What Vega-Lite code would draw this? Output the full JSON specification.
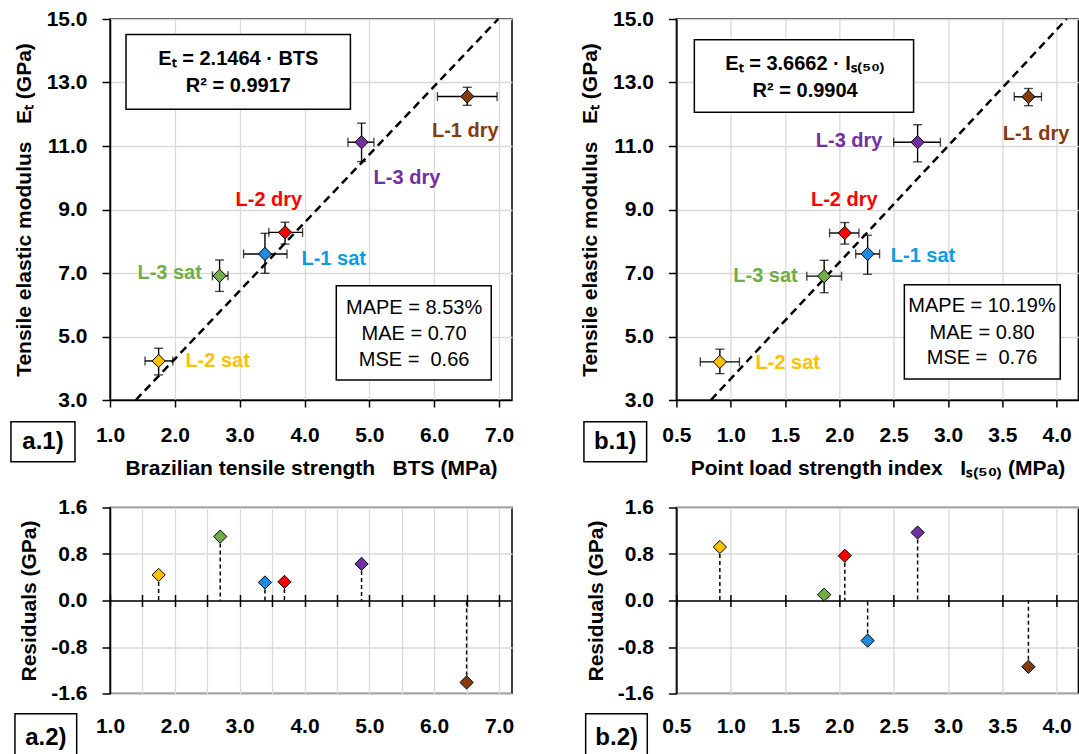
{
  "$schema": "https://vega.github.io/schema/vega-lite/v6.json",
  "background": "white",
  "padding": {"left": 9, "top": 7, "right": 0, "bottom": 0},
  "config": {
    "font": "Liberation Sans",
    "view": {"stroke": "black", "strokeWidth": 1.5},
    "axis": {"labelFont": "Liberation Sans", "labelFontSize": 21, "labelFontWeight": "bold", "labelColor": "black", "titleFont": "Liberation Sans", "titleFontSize": 21, "titleFontWeight": "bold", "titleColor": "black", "domainColor": "black", "domainWidth": 1.5, "tickColor": "black", "tickWidth": 1.5, "gridColor": "#d9d9d9", "gridWidth": 1.3, "labelFlush": false, "labelOverlap": false, "labelBound": false},
    "text": {"font": "Liberation Sans"}
  },
  "datasets": {
    "bts": [
      {"s": "L-2 sat", "x": 1.75, "xlo": 1.54, "xhi": 1.97, "y": 4.23, "ylo": 3.79, "yhi": 4.63},
      {"s": "L-3 sat", "x": 2.69, "xlo": 2.58, "xhi": 2.82, "y": 6.91, "ylo": 6.42, "yhi": 7.41},
      {"s": "L-1 sat", "x": 3.39, "xlo": 3.06, "xhi": 3.73, "y": 7.6, "ylo": 6.99, "yhi": 8.25},
      {"s": "L-2 dry", "x": 3.7, "xlo": 3.45, "xhi": 3.97, "y": 8.28, "ylo": 7.91, "yhi": 8.6},
      {"s": "L-3 dry", "x": 4.88, "xlo": 4.67, "xhi": 5.07, "y": 11.12, "ylo": 10.51, "yhi": 11.72},
      {"s": "L-1 dry", "x": 6.51, "xlo": 6.05, "xhi": 6.97, "y": 12.56, "ylo": 12.28, "yhi": 12.85}
    ],
    "is50": [
      {"s": "L-2 sat", "x": 0.9, "xlo": 0.72, "xhi": 1.08, "y": 4.2, "ylo": 3.83, "yhi": 4.6},
      {"s": "L-3 sat", "x": 1.86, "xlo": 1.7, "xhi": 2.02, "y": 6.9, "ylo": 6.38, "yhi": 7.4},
      {"s": "L-2 dry", "x": 2.05, "xlo": 1.91, "xhi": 2.18, "y": 8.26, "ylo": 7.91, "yhi": 8.59},
      {"s": "L-1 sat", "x": 2.26, "xlo": 2.15, "xhi": 2.37, "y": 7.6, "ylo": 6.96, "yhi": 8.19},
      {"s": "L-3 dry", "x": 2.72, "xlo": 2.5, "xhi": 2.93, "y": 11.12, "ylo": 10.5, "yhi": 11.67},
      {"s": "L-1 dry", "x": 3.74, "xlo": 3.61, "xhi": 3.86, "y": 12.55, "ylo": 12.27, "yhi": 12.81}
    ],
    "resBts": [
      {"s": "L-2 sat", "x": 1.75, "r": 0.44},
      {"s": "L-3 sat", "x": 2.7, "r": 1.1},
      {"s": "L-1 sat", "x": 3.39, "r": 0.31},
      {"s": "L-2 dry", "x": 3.69, "r": 0.32},
      {"s": "L-3 dry", "x": 4.88, "r": 0.63},
      {"s": "L-1 dry", "x": 6.5, "r": -1.41}
    ],
    "resIs": [
      {"s": "L-2 sat", "x": 0.9, "r": 0.92},
      {"s": "L-3 sat", "x": 1.86, "r": 0.1},
      {"s": "L-2 dry", "x": 2.05, "r": 0.77},
      {"s": "L-1 sat", "x": 2.26, "r": -0.69},
      {"s": "L-3 dry", "x": 2.72, "r": 1.17},
      {"s": "L-1 dry", "x": 3.74, "r": -1.14}
    ],
    "fitBts": [{"x": 1.398, "y": 3}, {"x": 6.988, "y": 15}],
    "fitIs": [{"x": 0.818, "y": 3}, {"x": 4.091, "y": 15}]
  },
  "columns": 2,
  "bounds": "flush",
  "spacing": {"row": 107.5, "column": 164.4},
  "concat": [
    {
      "width": 402, "height": 381,
      "layer": [
        {"data": {"name": "fitBts"}, "mark": {"type": "line", "color": "black", "strokeWidth": 2.5, "strokeDash": [8, 5]},
         "encoding": {
           "x": {"field": "x", "type": "quantitative", "title": "Brazilian tensile strength\u00a0\u00a0\u00a0BTS (MPa)", "scale": {"domain": [1, 7.2], "nice": false, "zero": false},
                 "axis": {"values": [1, 1.5, 2, 2.5, 3, 3.5, 4, 4.5, 5, 5.5, 6, 6.5, 7], "labelExpr": "datum.value % 1 == 0 ? format(datum.value, '.1f') : ''", "tickSize": 7, "labelPadding": 17, "grid": true, "title": "Brazilian tensile strength\u00a0\u00a0\u00a0BTS (MPa)", "titlePadding": 12}},
           "y": {"field": "y", "type": "quantitative", "title": "Tensile elastic modulus\u00a0\u00a0\u00a0E\u209c (GPa)", "scale": {"domain": [3, 15], "nice": false, "zero": false},
                 "axis": {"values": [3, 4, 5, 6, 7, 8, 9, 10, 11, 12, 13, 14, 15], "labelExpr": "datum.value % 2 == 1 ? format(datum.value, '.1f') : ''", "tickSize": 8, "labelPadding": 15, "grid": true, "title": "Tensile elastic modulus\u00a0\u00a0\u00a0E\u209c (GPa)", "titlePadding": 12}}
         }},
        {"data": {"name": "bts"}, "mark": {"type": "errorbar", "color": "black", "ticks": true, "size": 9, "thickness": 1.4},
         "encoding": {"x": {"field": "xlo", "type": "quantitative", "title": "Brazilian tensile strength\u00a0\u00a0\u00a0BTS (MPa)"}, "x2": {"field": "xhi"}, "y": {"field": "y", "type": "quantitative", "title": "Tensile elastic modulus\u00a0\u00a0\u00a0E\u209c (GPa)"}}},
        {"data": {"name": "bts"}, "mark": {"type": "errorbar", "color": "black", "ticks": true, "size": 9, "thickness": 1.4},
         "encoding": {"y": {"field": "ylo", "type": "quantitative", "title": "Tensile elastic modulus\u00a0\u00a0\u00a0E\u209c (GPa)"}, "y2": {"field": "yhi"}, "x": {"field": "x", "type": "quantitative", "title": "Brazilian tensile strength\u00a0\u00a0\u00a0BTS (MPa)"}}},
        {"data": {"name": "bts"}, "mark": {"type": "point", "shape": "diamond", "filled": true, "size": 175, "stroke": "black", "strokeWidth": 1, "opacity": 1},
         "encoding": {"x": {"field": "x", "type": "quantitative", "title": "Brazilian tensile strength\u00a0\u00a0\u00a0BTS (MPa)"}, "y": {"field": "y", "type": "quantitative", "title": "Tensile elastic modulus\u00a0\u00a0\u00a0E\u209c (GPa)"},
           "color": {"field": "s", "type": "nominal", "scale": {"domain": ["L-2 sat", "L-3 sat", "L-1 sat", "L-2 dry", "L-3 dry", "L-1 dry"], "range": ["#FFC000", "#70AD47", "#1E8BE0", "#FF0000", "#7030A0", "#843C0C"]}, "legend": null}}},
        {"data": {"values": [{}]}, "mark": {"type": "rect", "fill": "white", "stroke": "black", "strokeWidth": 1.5},
         "encoding": {"x": {"datum": 1.247}, "x2": {"datum": 4.708}, "y": {"datum": 14.51}, "y2": {"datum": 12.16}}},
        {"data": {"values": [{}]}, "mark": {"type": "text", "text": "E\u209c = 2.1464 \u00b7 BTS", "fontSize": 20, "fontWeight": "bold", "color": "black"},
         "encoding": {"x": {"datum": 2.98}, "y": {"datum": 13.74}}},
        {"data": {"values": [{}]}, "mark": {"type": "text", "text": "R\u00b2 = 0.9917", "fontSize": 20, "fontWeight": "bold", "color": "black"},
         "encoding": {"x": {"datum": 2.98}, "y": {"datum": 12.88}}},
        {"data": {"values": [{}]}, "mark": {"type": "rect", "fill": "white", "stroke": "black", "strokeWidth": 1.5},
         "encoding": {"x": {"datum": 4.49}, "x2": {"datum": 6.88}, "y": {"datum": 6.595}, "y2": {"datum": 3.63}}},
        {"data": {"values": [{}]}, "mark": {"type": "text", "text": "MAPE = 8.53%", "fontSize": 20, "color": "black"},
         "encoding": {"x": {"datum": 5.69}, "y": {"datum": 5.91}}},
        {"data": {"values": [{}]}, "mark": {"type": "text", "text": "MAE = 0.70", "fontSize": 20, "color": "black"},
         "encoding": {"x": {"datum": 5.69}, "y": {"datum": 5.08}}},
        {"data": {"values": [{}]}, "mark": {"type": "text", "text": "MSE =\u00a0 0.66", "fontSize": 20, "color": "black"},
         "encoding": {"x": {"datum": 5.69}, "y": {"datum": 4.26}}},
        {"data": {"values": [{}]}, "mark": {"type": "rect", "fill": "white", "stroke": "black", "strokeWidth": 1.5},
         "encoding": {"x": {"datum": -0.528}, "x2": {"datum": 0.46}, "y": {"datum": 2.317}, "y2": {"datum": 1.056}}},
        {"data": {"values": [{}]}, "mark": {"type": "text", "text": "a.1)", "fontSize": 24, "fontWeight": "bold", "color": "black"},
         "encoding": {"x": {"datum": -0.034}, "y": {"datum": 1.69}}},
        {"data": {"values": [{}]}, "mark": {"type": "text", "text": "L-1 dry", "fontSize": 20, "fontWeight": "bold", "color": "#843C0C"},
         "encoding": {"x": {"datum": 6.48}, "y": {"datum": 11.46}}},
        {"data": {"values": [{}]}, "mark": {"type": "text", "text": "L-3 dry", "fontSize": 20, "fontWeight": "bold", "color": "#7030A0"},
         "encoding": {"x": {"datum": 5.58}, "y": {"datum": 9.99}}},
        {"data": {"values": [{}]}, "mark": {"type": "text", "text": "L-2 dry", "fontSize": 20, "fontWeight": "bold", "color": "#FF0000"},
         "encoding": {"x": {"datum": 3.45}, "y": {"datum": 9.31}}},
        {"data": {"values": [{}]}, "mark": {"type": "text", "text": "L-1 sat", "fontSize": 20, "fontWeight": "bold", "color": "#0A9BE6"},
         "encoding": {"x": {"datum": 4.45}, "y": {"datum": 7.45}}},
        {"data": {"values": [{}]}, "mark": {"type": "text", "text": "L-3 sat", "fontSize": 20, "fontWeight": "bold", "color": "#70AD47"},
         "encoding": {"x": {"datum": 1.92}, "y": {"datum": 6.99}}},
        {"data": {"values": [{}]}, "mark": {"type": "text", "text": "L-2 sat", "fontSize": 20, "fontWeight": "bold", "color": "#FFC000"},
         "encoding": {"x": {"datum": 2.66}, "y": {"datum": 4.23}}}
      ]
    },
    {
      "width": 402, "height": 381,
      "layer": [
        {"data": {"name": "fitIs"}, "mark": {"type": "line", "color": "black", "strokeWidth": 2.5, "strokeDash": [8, 5]},
         "encoding": {
           "x": {"field": "x", "type": "quantitative", "title": "Point load strength index\u00a0\u00a0\u00a0I\u209b\u208d\u2085\u2080\u208e (MPa)", "scale": {"domain": [0.5, 4.2], "nice": false, "zero": false},
                 "axis": {"values": [0.5, 1, 1.5, 2, 2.5, 3, 3.5, 4], "format": ".1f", "tickSize": 7, "labelPadding": 17, "grid": true, "title": "Point load strength index\u00a0\u00a0\u00a0I\u209b\u208d\u2085\u2080\u208e (MPa)", "titlePadding": 12}},
           "y": {"field": "y", "type": "quantitative", "title": "Tensile elastic modulus\u00a0\u00a0\u00a0E\u209c (GPa)", "scale": {"domain": [3, 15], "nice": false, "zero": false},
                 "axis": {"values": [3, 4, 5, 6, 7, 8, 9, 10, 11, 12, 13, 14, 15], "labelExpr": "datum.value % 2 == 1 ? format(datum.value, '.1f') : ''", "tickSize": 8, "labelPadding": 15, "grid": true, "title": "Tensile elastic modulus\u00a0\u00a0\u00a0E\u209c (GPa)", "titlePadding": 12}}
         }},
        {"data": {"name": "is50"}, "mark": {"type": "errorbar", "color": "black", "ticks": true, "size": 9, "thickness": 1.4},
         "encoding": {"x": {"field": "xlo", "type": "quantitative", "title": "Point load strength index\u00a0\u00a0\u00a0I\u209b\u208d\u2085\u2080\u208e (MPa)"}, "x2": {"field": "xhi"}, "y": {"field": "y", "type": "quantitative", "title": "Tensile elastic modulus\u00a0\u00a0\u00a0E\u209c (GPa)"}}},
        {"data": {"name": "is50"}, "mark": {"type": "errorbar", "color": "black", "ticks": true, "size": 9, "thickness": 1.4},
         "encoding": {"y": {"field": "ylo", "type": "quantitative", "title": "Tensile elastic modulus\u00a0\u00a0\u00a0E\u209c (GPa)"}, "y2": {"field": "yhi"}, "x": {"field": "x", "type": "quantitative", "title": "Point load strength index\u00a0\u00a0\u00a0I\u209b\u208d\u2085\u2080\u208e (MPa)"}}},
        {"data": {"name": "is50"}, "mark": {"type": "point", "shape": "diamond", "filled": true, "size": 175, "stroke": "black", "strokeWidth": 1, "opacity": 1},
         "encoding": {"x": {"field": "x", "type": "quantitative", "title": "Point load strength index\u00a0\u00a0\u00a0I\u209b\u208d\u2085\u2080\u208e (MPa)"}, "y": {"field": "y", "type": "quantitative", "title": "Tensile elastic modulus\u00a0\u00a0\u00a0E\u209c (GPa)"},
           "color": {"field": "s", "type": "nominal", "scale": {"domain": ["L-2 sat", "L-3 sat", "L-1 sat", "L-2 dry", "L-3 dry", "L-1 dry"], "range": ["#FFC000", "#70AD47", "#1E8BE0", "#FF0000", "#7030A0", "#843C0C"]}, "legend": null}}},
        {"data": {"values": [{}]}, "mark": {"type": "rect", "fill": "white", "stroke": "black", "strokeWidth": 1.5},
         "encoding": {"x": {"datum": 0.665}, "x2": {"datum": 2.683}, "y": {"datum": 14.35}, "y2": {"datum": 12.06}}},
        {"data": {"values": [{}]}, "mark": {"type": "text", "text": "E\u209c = 3.6662 \u00b7 I\u209b\u208d\u2085\u2080\u208e", "fontSize": 20, "fontWeight": "bold", "color": "black"},
         "encoding": {"x": {"datum": 1.685}, "y": {"datum": 13.59}}},
        {"data": {"values": [{}]}, "mark": {"type": "text", "text": "R\u00b2 = 0.9904", "fontSize": 20, "fontWeight": "bold", "color": "black"},
         "encoding": {"x": {"datum": 1.685}, "y": {"datum": 12.72}}},
        {"data": {"values": [{}]}, "mark": {"type": "rect", "fill": "white", "stroke": "black", "strokeWidth": 1.5},
         "encoding": {"x": {"datum": 2.598}, "x2": {"datum": 4.033}, "y": {"datum": 6.63}, "y2": {"datum": 3.66}}},
        {"data": {"values": [{}]}, "mark": {"type": "text", "text": "MAPE = 10.19%", "fontSize": 20, "color": "black"},
         "encoding": {"x": {"datum": 3.313}, "y": {"datum": 5.96}}},
        {"data": {"values": [{}]}, "mark": {"type": "text", "text": "MAE = 0.80", "fontSize": 20, "color": "black"},
         "encoding": {"x": {"datum": 3.313}, "y": {"datum": 5.12}}},
        {"data": {"values": [{}]}, "mark": {"type": "text", "text": "MSE =\u00a0 0.76", "fontSize": 20, "color": "black"},
         "encoding": {"x": {"datum": 3.313}, "y": {"datum": 4.31}}},
        {"data": {"values": [{}]}, "mark": {"type": "rect", "fill": "white", "stroke": "black", "strokeWidth": 1.5},
         "encoding": {"x": {"datum": -0.351}, "x2": {"datum": 0.226}, "y": {"datum": 2.317}, "y2": {"datum": 1.056}}},
        {"data": {"values": [{}]}, "mark": {"type": "text", "text": "b.1)", "fontSize": 24, "fontWeight": "bold", "color": "black"},
         "encoding": {"x": {"datum": -0.063}, "y": {"datum": 1.69}}},
        {"data": {"values": [{}]}, "mark": {"type": "text", "text": "L-1 dry", "fontSize": 20, "fontWeight": "bold", "color": "#843C0C"},
         "encoding": {"x": {"datum": 3.81}, "y": {"datum": 11.38}}},
        {"data": {"values": [{}]}, "mark": {"type": "text", "text": "L-3 dry", "fontSize": 20, "fontWeight": "bold", "color": "#7030A0"},
         "encoding": {"x": {"datum": 2.09}, "y": {"datum": 11.15}}},
        {"data": {"values": [{}]}, "mark": {"type": "text", "text": "L-2 dry", "fontSize": 20, "fontWeight": "bold", "color": "#FF0000"},
         "encoding": {"x": {"datum": 2.045}, "y": {"datum": 9.31}}},
        {"data": {"values": [{}]}, "mark": {"type": "text", "text": "L-1 sat", "fontSize": 20, "fontWeight": "bold", "color": "#0A9BE6"},
         "encoding": {"x": {"datum": 2.77}, "y": {"datum": 7.52}}},
        {"data": {"values": [{}]}, "mark": {"type": "text", "text": "L-3 sat", "fontSize": 20, "fontWeight": "bold", "color": "#70AD47"},
         "encoding": {"x": {"datum": 1.32}, "y": {"datum": 6.89}}},
        {"data": {"values": [{}]}, "mark": {"type": "text", "text": "L-2 sat", "fontSize": 20, "fontWeight": "bold", "color": "#FFC000"},
         "encoding": {"x": {"datum": 1.525}, "y": {"datum": 4.16}}}
      ]
    },
    {
      "width": 402, "height": 186,
      "resolve": {"axis": {"x": "independent"}},
      "layer": [
        {"data": {"name": "resBts"}, "mark": {"type": "rule", "color": "black", "strokeWidth": 1.5, "strokeDash": [4, 3]},
         "encoding": {
           "x": {"field": "x", "type": "quantitative", "scale": {"domain": [1, 7.2], "nice": false, "zero": false},
                 "axis": {"orient": "bottom", "offset": -93, "values": [1, 1.5, 2, 2.5, 3, 3.5, 4, 4.5, 5, 5.5, 6, 6.5, 7], "labelExpr": "datum.value % 1 == 0 ? format(datum.value, '.1f') : ''", "tickSize": 6, "labelPadding": 109, "grid": true, "title": null}},
           "y": {"field": "r", "type": "quantitative", "title": "Residuals (GPa)", "scale": {"domain": [-1.6, 1.6], "nice": false, "zero": false},
                 "axis": {"values": [-1.6, -1.2, -0.8, -0.4, 0, 0.4, 0.8, 1.2, 1.6], "labelExpr": "abs(round(datum.value * 10)) % 8 == 0 ? replace(format(datum.value, '.1f'), '\u2212', '-') : ''", "tickSize": 8, "labelPadding": 15, "grid": true, "title": "Residuals (GPa)", "titlePadding": 11}},
           "y2": {"datum": 0}
         }},
        {"data": {"name": "resBts"}, "mark": {"type": "point", "shape": "diamond", "filled": true, "size": 175, "stroke": "black", "strokeWidth": 1, "opacity": 1},
         "encoding": {
           "x": {"field": "x", "type": "quantitative", "axis": {"orient": "top", "offset": -93, "values": [1, 1.5, 2, 2.5, 3, 3.5, 4, 4.5, 5, 5.5, 6, 6.5, 7], "labels": false, "tickSize": 6, "grid": false, "domain": false, "title": null}},
           "y": {"field": "r", "type": "quantitative", "title": "Residuals (GPa)"},
           "color": {"field": "s", "type": "nominal", "scale": {"domain": ["L-2 sat", "L-3 sat", "L-1 sat", "L-2 dry", "L-3 dry", "L-1 dry"], "range": ["#FFC000", "#70AD47", "#1E8BE0", "#FF0000", "#7030A0", "#843C0C"]}, "legend": null}}},
        {"data": {"values": [{}]}, "mark": {"type": "rect", "fill": "white", "stroke": "black", "strokeWidth": 1.5},
         "encoding": {"x": {"datum": -0.466, "axis": null}, "x2": {"datum": 0.486}, "y": {"datum": -1.949}, "y2": {"datum": -2.846}}},
        {"data": {"values": [{}]}, "mark": {"type": "text", "text": "a.2)", "fontSize": 24, "fontWeight": "bold", "color": "black"},
         "encoding": {"x": {"datum": 0.01, "axis": null}, "y": {"datum": -2.36}}}
      ]
    },
    {
      "width": 402, "height": 186,
      "resolve": {"axis": {"x": "independent"}},
      "layer": [
        {"data": {"name": "resIs"}, "mark": {"type": "rule", "color": "black", "strokeWidth": 1.5, "strokeDash": [4, 3]},
         "encoding": {
           "x": {"field": "x", "type": "quantitative", "scale": {"domain": [0.5, 4.2], "nice": false, "zero": false},
                 "axis": {"orient": "bottom", "offset": -93, "values": [0.5, 1, 1.5, 2, 2.5, 3, 3.5, 4], "format": ".1f", "tickSize": 6, "labelPadding": 109, "grid": true, "title": null}},
           "y": {"field": "r", "type": "quantitative", "title": "Residuals (GPa)", "scale": {"domain": [-1.6, 1.6], "nice": false, "zero": false},
                 "axis": {"values": [-1.6, -1.2, -0.8, -0.4, 0, 0.4, 0.8, 1.2, 1.6], "labelExpr": "abs(round(datum.value * 10)) % 8 == 0 ? replace(format(datum.value, '.1f'), '\u2212', '-') : ''", "tickSize": 8, "labelPadding": 15, "grid": true, "title": "Residuals (GPa)", "titlePadding": 11}},
           "y2": {"datum": 0}
         }},
        {"data": {"name": "resIs"}, "mark": {"type": "point", "shape": "diamond", "filled": true, "size": 175, "stroke": "black", "strokeWidth": 1, "opacity": 1},
         "encoding": {
           "x": {"field": "x", "type": "quantitative", "axis": {"orient": "top", "offset": -93, "values": [0.5, 1, 1.5, 2, 2.5, 3, 3.5, 4], "labels": false, "tickSize": 6, "grid": false, "domain": false, "title": null}},
           "y": {"field": "r", "type": "quantitative", "title": "Residuals (GPa)"},
           "color": {"field": "s", "type": "nominal", "scale": {"domain": ["L-2 sat", "L-3 sat", "L-1 sat", "L-2 dry", "L-3 dry", "L-1 dry"], "range": ["#FFC000", "#70AD47", "#1E8BE0", "#FF0000", "#7030A0", "#843C0C"]}, "legend": null}}},
        {"data": {"values": [{}]}, "mark": {"type": "rect", "fill": "white", "stroke": "black", "strokeWidth": 1.5},
         "encoding": {"x": {"datum": -0.335, "axis": null}, "x2": {"datum": 0.232}, "y": {"datum": -1.949}, "y2": {"datum": -2.846}}},
        {"data": {"values": [{}]}, "mark": {"type": "text", "text": "b.2)", "fontSize": 24, "fontWeight": "bold", "color": "black"},
         "encoding": {"x": {"datum": -0.05, "axis": null}, "y": {"datum": -2.36}}}
      ]
    }
  ]
}
